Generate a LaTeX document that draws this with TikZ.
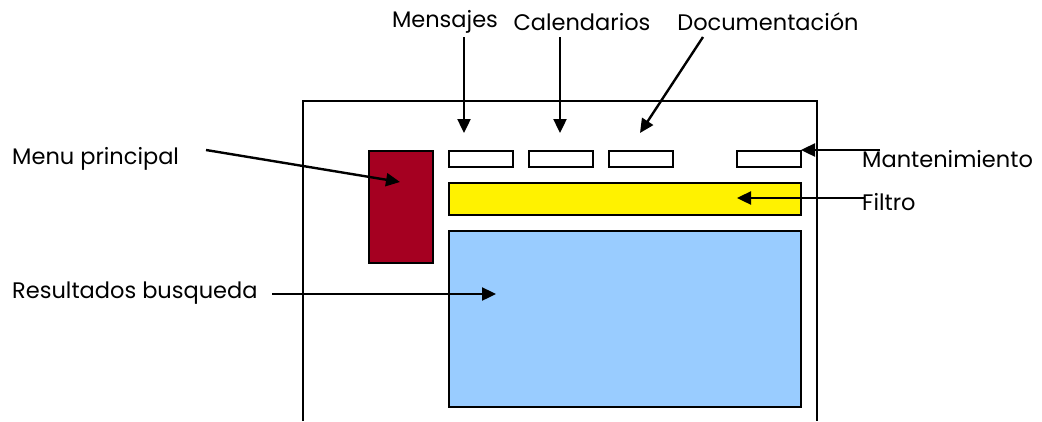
\documentclass[tikz,border=0pt]{standalone}
\usepackage{fontspec}
\setmainfont{Poppins}
\usetikzlibrary{arrows.meta}

\tikzset{
  box/.style={draw, line width=2pt, inner sep=0pt, anchor=north west},
  lbl/.style={font=\fontsize{22.5}{26}\selectfont, inner sep=1pt},
  pointer/.style={-{Triangle[length=14pt,width=13pt]}, line width=2.4pt},
}
\definecolor{menured}{RGB}{165,0,33}
\definecolor{resblue}{RGB}{153,204,255}

\begin{document}
\begin{tikzpicture}[x=1pt,y=-1pt]
	\useasboundingbox (0,0) rectangle (1042,421);
	% pantalla
	\draw[line width=2pt] (303,421) |- (817,101) -- (817,421);

	\node[box, fill=menured, minimum width=64pt, minimum height=112pt] (menu) at (368,150) {};
	\node[box, fill=yellow, minimum width=352pt, minimum height=32pt] (filtro) at (448,182) {};
	\node[box, fill=resblue, minimum width=352pt, minimum height=176pt] (result) at (448,230) {};

	\foreach \x/\name in {448/msj, 528/cal, 608/doc, 736/mant}{
	  \node[box, minimum width=64pt, minimum height=16pt] (\name) at (\x,150) {};
	}

	\node[lbl] (lmsj) at (445,22) {Mensajes};
	\node[lbl] (lcal) at (582,22) {Calendarios};
	\node[lbl] (ldoc) at (768,22) {Documentación};
	\node[lbl, anchor=west] (lmenu) at (11,159) {Menu principal};
	\node[lbl, anchor=west] (lres) at (11,293) {Resultados busqueda};
	\node[lbl, anchor=west] (lmant) at (861,159) {Mantenimiento};
	\node[lbl, anchor=west] (lfil) at (861,202) {Filtro};

	\coordinate (pmenu) at (206,150);
	\coordinate (pres) at (272,294);
	\coordinate (pdoc) at (703,37);
	\coordinate (pmant) at (880,150);
	\coordinate (pfil) at (865,198);

	\draw[pointer] (464,37) -- (464,133);
	\draw[pointer] (560,37) -- (560,133);
	\draw[pointer] (pdoc) -- (640,133);
	\draw[pointer] (pmenu) -- (400,182);
	\draw[pointer] (pres) -- (496,294);
	\draw[pointer] (pmant) -- (801,150);
	\draw[pointer] (pfil) -- (737,198);
\end{tikzpicture}
\end{document}
